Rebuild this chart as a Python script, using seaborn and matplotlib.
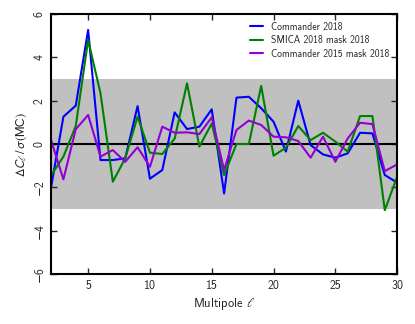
import numpy as np
import pandas as pd
import matplotlib
matplotlib.use("Agg")
import matplotlib.pyplot as plt
import seaborn as sns

ell = list(range(2, 31))
commander_2018 = [-2.0, 1.26, 1.77, 5.26, -0.74, -0.74, -0.66, 1.75, -1.6, -1.2,
                  1.46, 0.69, 0.8, 1.6, -2.28, 2.14, 2.18, 1.65, 1.03, -0.35,
                  2.0, -0.05, -0.48, -0.63, -0.43, 0.52, 0.49, -1.43, -1.78]
smica_2018 = [-1.45, -0.58, 0.83, 4.8, 2.34, -1.74, -0.66, 1.26, -0.4, -0.46,
              0.25, 2.8, -0.12, 0.95, -1.43, 0.0, 0.0, 2.68, -0.54, -0.17,
              0.83, 0.18, 0.52, 0.11, -0.35, 1.29, 1.29, -3.05, -1.51]
commander_2015 = [0.18, -1.63, 0.68, 1.34, -0.58, -0.28, -0.82, -0.15, -1.05, 0.8,
                  0.52, 0.54, 0.46, 1.23, -1.2, 0.65, 1.08, 0.88, 0.34, 0.31,
                  0.14, -0.63, 0.34, -0.82, 0.26, 0.98, 0.92, -1.25, -0.94]
labels = ["Commander 2018", "SMICA 2018 mask 2018", "Commander 2015 mask 2018"]
colors = ["#0000ff", "#008000", "#9400d3"]

df = pd.concat([
    pd.DataFrame({"ell": ell, "val": v, "series": lab})
    for v, lab in zip([commander_2018, smica_2018, commander_2015], labels)
])

sns.set_style("ticks")
plt.rcParams['font.family'] = ['cmss10', 'DejaVu Sans']
plt.rcParams['mathtext.fontset'] = 'stixsans'
plt.rcParams['axes.formatter.use_mathtext'] = False

fig = plt.figure(figsize=(4.15, 3.24), dpi=100)
ax = fig.add_axes([0.123, 0.154, 0.834, 0.803])

ax.axhspan(-3, 3, color="#c0c0c0", lw=0, zorder=0)
ax.axhline(0, color="black", lw=1.5, zorder=1)

sns.lineplot(data=df, x="ell", y="val", hue="series", hue_order=labels,
             palette=colors, lw=1.5, ax=ax, zorder=2)

ax.set_xlim(2, 30)
ax.set_ylim(-6, 6)
ax.set_xticks([5, 10, 15, 20, 25, 30])
ax.set_yticks([-6, -4, -2, 0, 2, 4, 6])
ax.tick_params(direction="in", top=True, right=True, length=4, width=1,
               labelsize=8.5, pad=4)
for lab in ax.get_yticklabels():
    lab.set_rotation(90)
    lab.set_va("center")
for s in ax.spines.values():
    s.set_linewidth(1.5)
    s.set_color("black")

ax.set_xlabel(r"Multipole $\ell$", fontsize=9, labelpad=3)
ax.set_ylabel(r"$\Delta C_\ell\,/\,\sigma(\mathrm{MC})$", fontsize=9, labelpad=3)

leg = ax.legend(loc="upper right", frameon=False, fontsize=7, handlelength=1.4,
                handletextpad=0.8, borderaxespad=0.4, labelspacing=0.35)

fig.savefig("out.png", dpi=100)
